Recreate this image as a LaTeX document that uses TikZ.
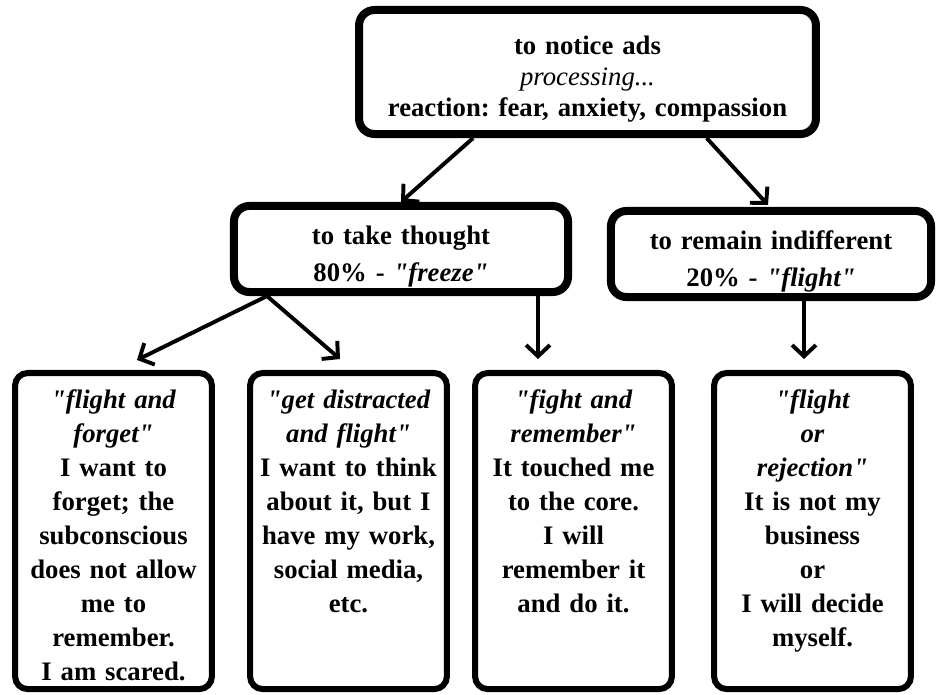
\documentclass[tikz,border=0pt]{standalone}
\usepackage{fontspec}
\setmainfont{Liberation Serif}[Ligatures=TeXOff]
\usetikzlibrary{arrows.meta}
\newcommand\qt{\symbol{34}}
\begin{document}
\frenchspacing
\begin{tikzpicture}[x=0.025cm,y=-0.025cm,
  box/.style={draw,line width=5.7pt,rounded corners=11pt,align=center,inner xsep=0pt,
    font=\bfseries\fontsize{19}{22}\selectfont},
  midbox/.style={box,minimum height=1.85cm,text height=24pt,font=\bfseries\fontsize{19}{26.5}\selectfont},
  ansbox/.style={box,line width=4.3pt,rounded corners=9pt,text width=4.92cm,minimum height=7.9cm,
    font=\bfseries\fontsize{19}{24.2}\selectfont,
    inner ysep=9pt,text height=16pt,text depth=190pt,anchor=north},
  arr/.style={line width=2.8pt,-{Straight Barb[length=8pt,width=17pt]}}]
\useasboundingbox (0,0) rectangle (936,695);
% top
\node[box,text width=11.42cm,minimum height=3.1cm,text height=23pt] (notice) at (587.5,72)
  {to notice ads\\ {\mdseries\itshape processing...}\\ reaction: fear, anxiety, compassion};
% second row
\node[midbox,text width=8.35cm] (think) at (401,249) {to take thought\\ 80\% - {\itshape\qt freeze\qt}};
\node[midbox,text width=8cm] (indiff) at (771,254) {to remain indifferent\\ 20\% - {\itshape\qt flight\qt}};
% answers
\node[ansbox] (fforget) at (113.5,370) {{\itshape\qt flight and\\ forget\qt}\\ I want to\\ forget; the\\ subconscious\\ does not allow\\ me to\\ remember.\\ I am scared.};
\node[ansbox] (distract) at (348.5,370) {{\itshape\qt get distracted\\ and flight\qt}\\ I want to think\\ about it, but I\\ have my work,\\ social media,\\ etc.};
\node[ansbox] (fremember) at (573.5,370) {{\itshape\qt fight and\\ remember\qt}\\ It touched me\\ to the core.\\ I will\\ remember it\\ and do it.};
\node[ansbox] (reject) at (812.5,370) {{\itshape\qt flight\\ or\\ rejection\qt}\\ It is not my\\ business\\ or\\ I will decide\\ myself.};
% arrows
\draw[arr] (notice.210) -- (think.north);
\draw[arr] (notice.331) -- ([shift={(-3,-2)}]indiff.north);
\draw[arr] ([shift={(-134,0)}]think.south) -- ([shift={(23.5,-10)}]fforget.north);
\draw[arr] ([shift={(-134,0)}]think.south) -- ([shift={(-8.5,-11)}]distract.north);
\draw[arr] ([shift={(137,0)}]think.south) -- ([shift={(-35.5,-11)}]fremember.north);
\draw[arr] ([shift={(33,0)}]indiff.south) -- ([shift={(-8.5,-11)}]reject.north);
\end{tikzpicture}
\end{document}
